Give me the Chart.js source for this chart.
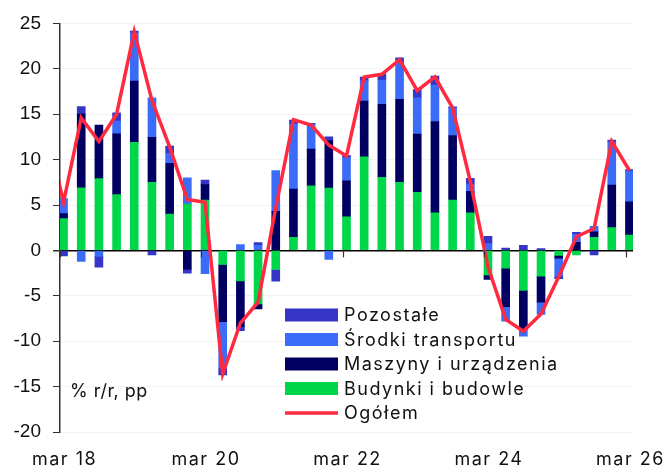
<!DOCTYPE html>
<html>
<head>
<meta charset="utf-8">
<script src="https://cdn.jsdelivr.net/npm/chart.js@4.4.1/dist/chart.umd.min.js"></script>
<style>
  body { margin: 0; background: #fff; }
  #wrap { width: 665px; height: 470px; }
</style>
</head>
<body>
<div id="wrap"><canvas id="myChart" width="665" height="470"></canvas></div>
<script>
// quarters, mar 18 .. mar 26 (index 0..32); index -1 = Q4 2017 (only the total line, clipped)
var quarters = [];
var years = [18, 19, 20, 21, 22, 23, 24, 25, 26];
var months = ["mar", "cze", "wrz", "gru"];
for (var y = 0; y < years.length; y++) {
    for (var m = 0; m < 4; m++) {
        if (y == years.length - 1 && m > 0) break;
        quarters.push(months[m] + " " + years[y]);
    }
}
var tickIdx = [0, 8, 16, 24, 32];

var budynki   = [3.5, 6.9, 7.9, 6.15, 11.9, 7.5, 4.0, 5.1, 5.55, -1.55, -3.35, -5.9, -2.1, 1.45, 7.1, 6.85, 3.7, 10.3, 8.05, 7.5, 6.4, 4.15, 5.55, 4.15, -2.7, -1.95, -4.4, -2.85, -0.55, -0.5, 1.45, 2.5, 1.7];
var maszyny   = [0.55, 8.1, 5.9, 6.7, 6.75, 4.95, 5.6, -2.1, 1.7, -6.3, -5.05, -0.55, 4.3, 5.3, 4.05, 5.25, 3.95, 6.15, 8.05, 9.15, 6.4, 10.05, 7.1, 2.35, -0.5, -4.25, -4.3, -2.85, -0.3, 0.9, 0.6, 4.7, 3.65];
var srodki    = [1.65, -1.2, -0.65, 1.4, 5.3, 4.35, 1.1, 2.9, -2.55, -5.1, 0.65, 0.55, 4.5, 7.15, 2.75, -1.0, 2.55, 2.25, 2.65, 4.0, 4.0, 4.0, 3.05, 0.8, 0.75, -1.6, -0.75, -1.35, -2.0, 0.85, 0.6, 4.75, 3.4];
var pozostale = [-0.6, 0.85, -1.2, 0.9, 0.2, -0.5, 0.8, -0.4, 0.5, -0.75, -0.45, 0.3, -1.3, 0.45, 0.1, 0.4, 0.25, 0.4, 0.7, 0.55, 0.9, 1.0, 0.1, 0.65, 0.8, 0.25, 0.55, 0.2, -0.25, 0.25, -0.5, 0.2, 0.15];
var ogolemPrev = 13.8; // Q4 2017
var ogolem    = [5.3, 14.6, 12.0, 15.0, 24.1, 16.5, 11.4, 5.6, 5.3, -13.6, -8.0, -5.7, 4.7, 14.4, 13.8, 11.6, 10.4, 19.1, 19.4, 21.0, 17.6, 19.1, 15.7, 7.6, -1.8, -7.6, -8.9, -7.0, -2.9, 1.5, 2.4, 12.0, 8.8];

function pts(arr) {
    return arr.map(function (v, i) { return { x: i, y: v }; });
}
var totalPts = [{ x: -1, y: ogolemPrev }].concat(pts(ogolem));

var fontMain = "Inter, 'Open Sans', sans-serif";

// legend, x labels, x ticks and note, drawn by hand
const extras = {
    id: 'extras',
    afterDraw: function (chart) {
        const ctx = chart.ctx;
        const xs = chart.scales.x, ys = chart.scales.y;
        const y0 = ys.getPixelForValue(0);
        ctx.save();
        // small ticks below zero line
        ctx.strokeStyle = '#333';
        ctx.lineWidth = 1.2;
        tickIdx.forEach(function (t) {
            var px = Math.round(xs.getPixelForValue(t - 0.2)) + 0.5;
            ctx.beginPath();
            ctx.moveTo(px, y0);
            ctx.lineTo(px, y0 + 7);
            ctx.stroke();
        });
        ctx.font = "18px " + fontMain;
        ctx.letterSpacing = '1.5px';
        ctx.fillStyle = '#111';
        // x labels
        ctx.textAlign = 'center';
        ctx.textBaseline = 'middle';
        tickIdx.forEach(function (t) {
            ctx.fillText(quarters[t], xs.getPixelForValue(t) + 1, 460);
        });
        // legend
        ctx.textAlign = 'left';
        var items = chart.data.datasets.slice().sort(function (a, b) { return a.legendPos - b.legendPos; });
        items.forEach(function (ds, i) {
            var cy = 315 + i * 24.5;
            if (ds.type == 'line') {
                ctx.strokeStyle = ds.borderColor;
                ctx.lineWidth = 3.5;
                ctx.beginPath();
                ctx.moveTo(285, cy);
                ctx.lineTo(338, cy);
                ctx.stroke();
            } else {
                ctx.fillStyle = ds.backgroundColor;
                ctx.fillRect(285, cy - 6.5, 53, 13);
            }
            ctx.fillStyle = '#111';
            ctx.fillText(ds.label, 344, cy + 1);
        });
        ctx.letterSpacing = '0.5px';
        ctx.fillText('% r/r, pp', 70, 392);
        ctx.restore();
    }
};

const config = {
    type: 'bar',
    data: {
        datasets: [
            {
                type: 'line',
                label: 'Ogółem',
                data: totalPts,
                borderColor: '#ff2a40',
                backgroundColor: '#ff2a40',
                borderWidth: 3.5,
                pointRadius: 0,
                tension: 0,
                stack: 'tot',
                order: 0,
                legendPos: 4
            },
            { label: 'Budynki i budowle', data: pts(budynki), backgroundColor: '#00d64a', stack: 'inv', order: 1, legendPos: 3 },
            { label: 'Maszyny i urządzenia', data: pts(maszyny), backgroundColor: '#000062', stack: 'inv', order: 1, legendPos: 2 },
            { label: 'Środki transportu', data: pts(srodki), backgroundColor: '#3a6cf8', stack: 'inv', order: 1, legendPos: 1 },
            { label: 'Pozostałe', data: pts(pozostale), backgroundColor: '#3535c8', stack: 'inv', order: 1, legendPos: 0 }
        ]
    },
    options: {
        responsive: false,
        animation: false,
        layout: { padding: { top: 22, right: 32, left: 0, bottom: 0 } },
        datasets: { bar: { barThickness: 8 } },
        plugins: {
            legend: { display: false },
            tooltip: { enabled: false }
        },
        scales: {
            x: {
                type: 'linear',
                offset: false,
                min: -0.2,
                max: 32.2,
                grid: { display: false },
                border: { display: false },
                afterBuildTicks: function (scale) {
                    scale.ticks = tickIdx.map(function (v) { return { value: v }; });
                },
                afterFit: function (scale) { scale.height = 38; },
                ticks: { display: false }
            },
            y: {
                stacked: true,
                min: -20,
                max: 25,
                afterFit: function (scale) { scale.width = 60; },
                border: { display: true, color: '#333', width: 1.5 },
                grid: {
                    color: function (c) { return c.tick && c.tick.value === 0 ? '#000' : 'rgba(0,0,0,0.05)'; },
                    lineWidth: function (c) { return c.tick && c.tick.value === 0 ? 1.5 : 1; },
                    tickColor: '#333',
                    tickLength: 7
                },
                ticks: {
                    stepSize: 5,
                    padding: 12,
                    color: '#111',
                    font: { family: "'Liberation Sans', Arial, sans-serif", size: 19 }
                }
            }
        }
    },
    plugins: [extras]
};

const myChart = new Chart(document.getElementById('myChart'), config);
</script>
</body>
</html>
